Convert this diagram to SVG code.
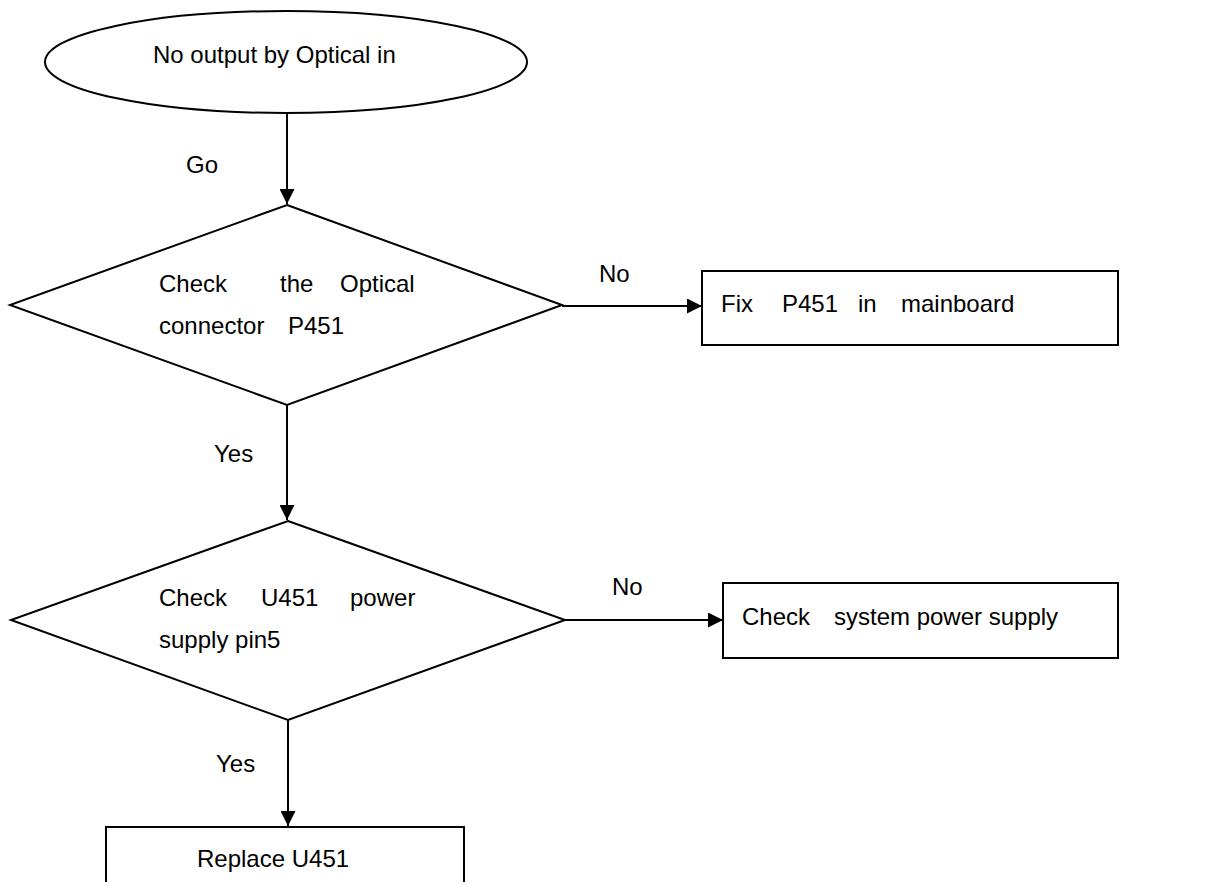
<svg xmlns="http://www.w3.org/2000/svg" width="1221" height="882" viewBox="0 0 1221 882">
<style>
.s{fill:#fff;stroke:#000;stroke-width:2}
.c{fill:none;stroke:#000;stroke-width:2}
text{font-family:"Liberation Sans",Arial,sans-serif;font-size:24px;fill:#000}
</style>
<defs>
<marker id="ah" viewBox="0 0 15 15" refX="15" refY="7.5" markerWidth="15" markerHeight="15" markerUnits="userSpaceOnUse" orient="auto">
<path d="M0,0 L15,7.5 L0,15 Z" fill="#000"/>
</marker>
</defs>
<rect width="1221" height="882" fill="#fff"/>
<g id="start">
<ellipse class="s" cx="286" cy="62" rx="241" ry="51"/>
<text x="153" y="63">No output by Optical in</text>
</g>
<g id="d1">
<polygon class="s" points="287,205 562,305 287,405 10,305"/>
<text y="292"><tspan x="159">Check</tspan><tspan x="280">the</tspan><tspan x="340">Optical</tspan></text>
<text y="334"><tspan x="159">connector</tspan><tspan x="288">P451</tspan></text>
</g>
<g id="b1">
<rect class="s" x="702" y="271" width="416" height="74"/>
<text y="312"><tspan x="721">Fix</tspan><tspan x="782">P451</tspan><tspan x="858">in</tspan><tspan x="901">mainboard</tspan></text>
</g>
<g id="d2">
<polygon class="s" points="288,521 565,620 288,720 11,620"/>
<text y="606"><tspan x="159">Check</tspan><tspan x="261">U451</tspan><tspan x="350">power</tspan></text>
<text y="648" x="159">supply pin5</text>
</g>
<g id="b2">
<rect class="s" x="723" y="583" width="395" height="75"/>
<text y="625"><tspan x="742">Check</tspan><tspan x="834">system power supply</tspan></text>
</g>
<g id="b3">
<rect class="s" x="106" y="827" width="358" height="70"/>
<text x="197" y="867">Replace U451</text>
</g>
<g id="connectors">
<line class="c" x1="287" y1="113" x2="287" y2="204" marker-end="url(#ah)"/>
<line class="c" x1="562" y1="306" x2="702" y2="306" marker-end="url(#ah)"/>
<line class="c" x1="287" y1="405" x2="287" y2="520" marker-end="url(#ah)"/>
<line class="c" x1="565" y1="620" x2="723" y2="620" marker-end="url(#ah)"/>
<line class="c" x1="288" y1="720" x2="288" y2="826" marker-end="url(#ah)"/>
<text x="186" y="173">Go</text>
<text x="599" y="282">No</text>
<text x="214" y="462">Yes</text>
<text x="612" y="595">No</text>
<text x="216" y="772">Yes</text>
</g>
</svg>
